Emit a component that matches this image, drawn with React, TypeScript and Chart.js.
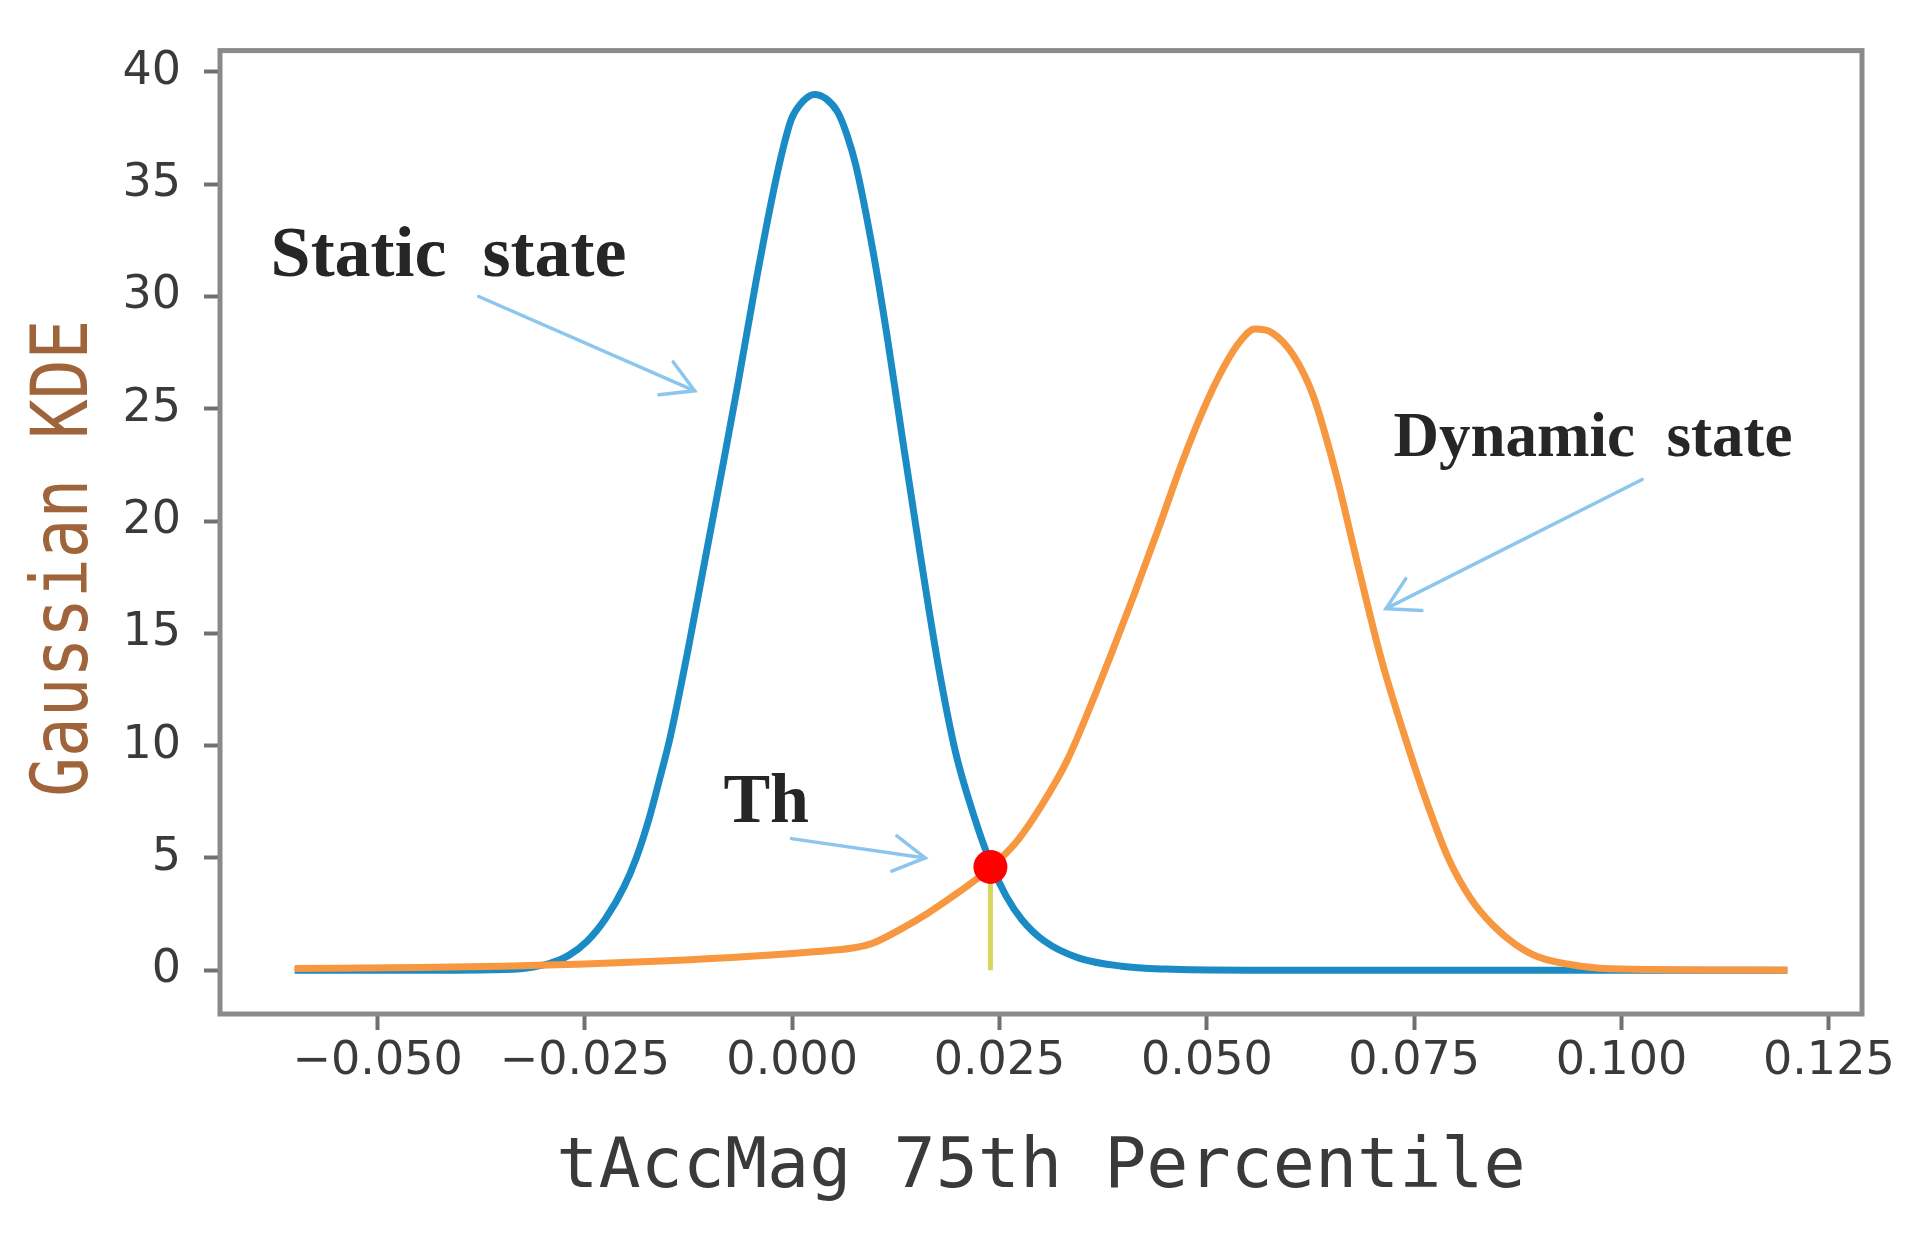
import React, { useEffect, useRef } from "react";
import { Chart, registerables } from "chart.js";

Chart.register(...registerables);

// KDE curves (x = tAccMag 75th percentile, y = density)
const staticX = [
  -0.06, -0.045, -0.036, -0.032, -0.0293, -0.027, -0.0247, -0.0225, -0.0203,
  -0.0188, -0.0173, -0.016, -0.0147, -0.0126, -0.0104, -0.0083, -0.0066,
  -0.0044, -0.0022, -0.0011, -0.0001, 0.0013, 0.0027, 0.0041, 0.0055, 0.0066,
  0.0077, 0.0098, 0.0115, 0.0132, 0.0154, 0.0176, 0.0197, 0.0218, 0.024,
  0.0258, 0.0277, 0.0304, 0.0345, 0.0397, 0.045, 0.055, 0.08, 0.1, 0.12,
];
const staticY = [
  0, 0, 0.02, 0.1, 0.3, 0.65, 1.3, 2.3, 3.7, 5.0, 6.7, 8.5, 10.4, 14.2, 18.5,
  22.6, 26.0, 30.6, 34.8, 36.6, 37.9, 38.7, 39.0, 38.8, 38.2, 37.2, 35.8,
  31.9, 28.1, 23.9, 18.6, 13.6, 9.7, 7.0, 4.7, 3.3, 2.25, 1.3, 0.55, 0.18,
  0.05, 0, 0, 0, 0,
];

const dynamicX = [
  -0.06, -0.045, -0.035, -0.025, -0.015, -0.005, 0.0045, 0.0075, 0.0097,
  0.0132, 0.0164, 0.0196, 0.0222, 0.024, 0.027, 0.03, 0.0331, 0.0359, 0.0386,
  0.0413, 0.0442, 0.0469, 0.0495, 0.0521, 0.054, 0.0558, 0.0578, 0.0604,
  0.0628, 0.0655, 0.0683, 0.071, 0.0737, 0.0764, 0.0791, 0.0818, 0.0845,
  0.0872, 0.0899, 0.0951, 0.1, 0.12,
];
const dynamicY = [
  0.08, 0.12, 0.18, 0.28, 0.42, 0.62, 0.88, 1.0, 1.2, 1.85, 2.55, 3.35, 4.05,
  4.6, 5.7, 7.3, 9.3, 11.7, 14.2, 16.8, 19.7, 22.5, 24.9, 26.9, 28.0, 28.55,
  28.4, 27.4, 25.6, 22.2, 17.9, 13.9, 10.6, 7.6, 5.0, 3.2, 2.0, 1.15, 0.6,
  0.18, 0.05, 0,
];

// threshold where the two curves cross
const thresholdX = 0.0239;
const thresholdY = 4.6;

const xTicks = [-0.05, -0.025, 0, 0.025, 0.05, 0.075, 0.1, 0.125];
const yTicks = [0, 5, 10, 15, 20, 25, 30, 35, 40];

// annotation texts (left / baseline in data units)
const notes = [
  { text: "Static  state", x: -0.0629, y: 30.9, size: 72 },
  { text: "Dynamic  state", x: 0.0725, y: 22.9, size: 63 },
  { text: "Th", x: -0.0083, y: 6.6, size: 70 },
];

// arrows from label to curve, [x, y] in data units
const arrows = [
  { from: [-0.0378, 30.0], to: [-0.01176, 25.8] },
  { from: [-0.0001, 5.86], to: [0.01604, 5.0] },
  { from: [0.1025, 21.85], to: [0.0716, 16.1] },
];

const yTitle = "Gaussian KDE";

const annotationPlugin = {
  id: "annotations",
  afterDatasetsDraw(chart: any) {
    const { ctx, chartArea: a, scales } = chart;
    const px = (v: number) => scales.x.getPixelForValue(v);
    const py = (v: number) => scales.y.getPixelForValue(v);
    ctx.save();

    // arrows
    ctx.strokeStyle = "#8cc6ee";
    ctx.lineWidth = 3.5;
    ctx.lineCap = "round";
    arrows.forEach(({ from, to }) => {
      const x1 = px(from[0]), y1 = py(from[1]);
      const x2 = px(to[0]), y2 = py(to[1]);
      const ang = Math.atan2(y2 - y1, x2 - x1);
      const head = 36;
      ctx.beginPath();
      ctx.moveTo(x1, y1);
      ctx.lineTo(x2, y2);
      ctx.moveTo(x2 - head * Math.cos(ang - 0.52), y2 - head * Math.sin(ang - 0.52));
      ctx.lineTo(x2, y2);
      ctx.lineTo(x2 - head * Math.cos(ang + 0.52), y2 - head * Math.sin(ang + 0.52));
      ctx.stroke();
    });

    // texts
    ctx.fillStyle = "#262626";
    ctx.textAlign = "left";
    ctx.textBaseline = "alphabetic";
    notes.forEach((n) => {
      ctx.font = `bold ${n.size}px 'Liberation Serif'`;
      ctx.fillText(n.text, px(n.x), py(n.y));
    });

    // axes frame
    ctx.strokeStyle = "#8a8a8a";
    ctx.lineWidth = 5;
    ctx.strokeRect(a.left, a.top, a.right - a.left, a.bottom - a.top);

    // y axis title (sits a little below the middle in the original)
    ctx.translate(66, (a.top + a.bottom) / 2 + 26);
    ctx.rotate(-Math.PI / 2);
    ctx.scale(1, 1.2);
    ctx.fillStyle = "#a0643a";
    ctx.font = "66px 'DejaVu Sans Mono'";
    ctx.textAlign = "center";
    ctx.textBaseline = "middle";
    ctx.fillText(yTitle, 0, 0);
    ctx.restore();
  },
};

const App = () => {
  const canvasRef = useRef<HTMLCanvasElement | null>(null);
  const chartRef = useRef<Chart | null>(null);

  useEffect(() => {
    if (!canvasRef.current) return;
    if (chartRef.current) chartRef.current.destroy();

    chartRef.current = new Chart(canvasRef.current, {
      type: "scatter",
      data: {
        datasets: [
          {
            label: "Static state",
            data: staticX.map((x, i) => ({ x, y: staticY[i] })),
            showLine: true,
            borderColor: "#1b8bc6",
            borderWidth: 7,
            pointRadius: 0,
            cubicInterpolationMode: "monotone",
            order: 3,
          },
          {
            label: "Dynamic state",
            data: dynamicX.map((x, i) => ({ x, y: dynamicY[i] })),
            showLine: true,
            borderColor: "#f7973f",
            borderWidth: 7,
            pointRadius: 0,
            cubicInterpolationMode: "monotone",
            order: 1,
          },
          {
            label: "Th line",
            data: [
              { x: thresholdX, y: 0 },
              { x: thresholdX, y: thresholdY },
            ],
            showLine: true,
            borderColor: "#d9d65c",
            borderWidth: 5,
            pointRadius: 0,
            order: 2,
          },
          {
            label: "Th",
            data: [{ x: thresholdX, y: thresholdY }],
            pointRadius: 17,
            pointBackgroundColor: "#ff0000",
            pointBorderWidth: 0,
            order: 0,
          },
        ],
      },
      options: {
        animation: false,
        responsive: true,
        maintainAspectRatio: false,
        devicePixelRatio: 1,
        events: [],
        layout: { padding: { top: 46, right: 62, left: 0, bottom: 0 } },
        plugins: {
          legend: { display: false },
          tooltip: { enabled: false },
        },
        scales: {
          x: {
            type: "linear",
            min: -0.069,
            max: 0.129,
            afterBuildTicks: (axis: any) => {
              axis.ticks = xTicks.map((value) => ({ value }));
            },
            afterFit: (axis: any) => {
              axis.height = 220;
            },
            grid: {
              drawOnChartArea: false,
              drawTicks: true,
              tickLength: 16,
              tickWidth: 4,
              tickColor: "#707070",
            },
            border: { display: false },
            ticks: {
              padding: 4,
              color: "#3a3a3a",
              font: { family: "DejaVu Sans", size: 46 },
              maxRotation: 0,
              callback: (v: any) => Number(v).toFixed(3).replace("-", "\u2212"),
            },
            title: {
              display: true,
              text: "tAccMag 75th Percentile",
              color: "#3a3a3a",
              font: { family: "DejaVu Sans Mono", size: 70 },
              padding: { top: 0, bottom: 23 },
            },
          },
          y: {
            type: "linear",
            min: -1.95,
            max: 40.95,
            afterBuildTicks: (axis: any) => {
              axis.ticks = yTicks.map((value) => ({ value }));
            },
            afterFit: (axis: any) => {
              axis.width = 220;
            },
            grid: {
              drawOnChartArea: false,
              drawTicks: true,
              tickLength: 16,
              tickWidth: 4,
              tickColor: "#707070",
            },
            border: { display: false },
            ticks: {
              padding: 23,
              color: "#3a3a3a",
              font: { family: "DejaVu Sans", size: 46 },
              callback: (v: any) => String(v),
            },
          },
        },
      },
      plugins: [annotationPlugin],
    } as any);

    return () => {
      if (chartRef.current) {
        chartRef.current.destroy();
        chartRef.current = null;
      }
    };
  }, []);

  return (
    <div
      style={{
        position: "fixed",
        left: 0,
        top: 0,
        width: 1924,
        height: 1234,
        background: "#fff",
      }}
    >
      <canvas ref={canvasRef} />
    </div>
  );
};

export default App;
